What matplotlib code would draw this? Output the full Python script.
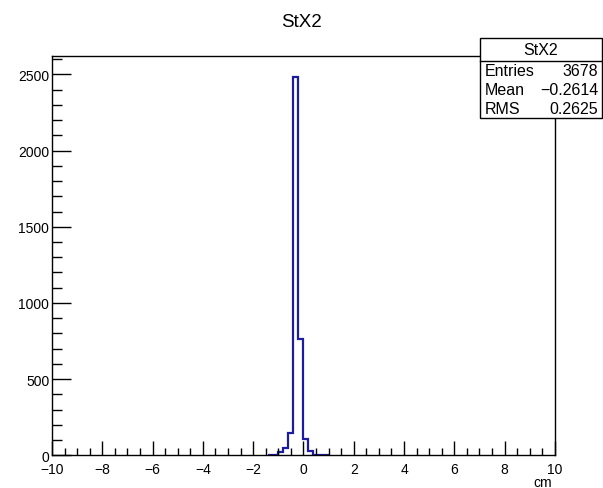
import matplotlib
matplotlib.use("Agg")
import matplotlib.pyplot as plt
from matplotlib.ticker import MultipleLocator
import numpy as np

plt.rcParams['font.family'] = ['Liberation Sans', 'DejaVu Sans']

# histogram data (bins of 0.2 cm, only the non-empty region)
bin_edges = [-1.4, -1.2, -1.0, -0.8, -0.6, -0.4, -0.2, 0.0, 0.2, 0.4, 0.6, 0.8, 1.0]
counts = [3, 4, 20, 48, 148, 2485, 762, 105, 28, 5, 4, 3]

stat_names = ["Entries", "Mean", "RMS"]
stat_values = ["3678", "\u22120.2614", "0.2625"]

fig = plt.figure(figsize=(6.03, 4.89), dpi=100)
ax = fig.add_axes([0.0862, 0.0665, 0.834, 0.817])

ax.stairs(counts, bin_edges, color='#1c1ca0', linewidth=1.6, baseline=None)

ax.set_xlim(-10, 10)
ax.set_ylim(0, 2620)
ax.xaxis.set_major_locator(MultipleLocator(2))
ax.xaxis.set_minor_locator(MultipleLocator(0.5))
ax.yaxis.set_major_locator(MultipleLocator(500))
ax.yaxis.set_minor_locator(MultipleLocator(100))
ax.tick_params(which='both', direction='in', top=False, right=False,
               labelsize=10, width=1, pad=2)
ax.tick_params(axis='x', which='major', length=10, pad=5)
ax.tick_params(axis='x', which='minor', length=5)
ax.tick_params(axis='y', which='major', length=14)
ax.tick_params(axis='y', which='minor', length=7)
for lbl in ax.get_yticklabels():
    lbl.set_verticalalignment('center_baseline')
for s in ax.spines.values():
    s.set_linewidth(1)

# x axis title, ROOT style at the right end
fig.text(543 / 603, 1 - 483 / 489, "cm", ha='center', va='center', fontsize=10)

fig.text(0.5, 0.955, "StX2", ha='center', va='center', fontsize=13.5)

# stats box
bx0, bx1 = 480 / 603, 602 / 603
by1, by0 = 1 - 39 / 489, 1 - 119 / 489
hy = 1 - 62 / 489
fig.patches.append(plt.Rectangle((bx0, by0), bx1 - bx0, by1 - by0,
                                 transform=fig.transFigure, fill=True,
                                 facecolor='white', edgecolor='black', lw=1))
fig.add_artist(plt.Line2D([bx0, bx1], [hy, hy], transform=fig.transFigure,
                          color='black', lw=1))
fig.text((bx0 + bx1) / 2, (by1 + hy) / 2, "StX2", ha='center', va='center', fontsize=11.5)
row_h = (hy - by0) / 3
for i, (n, v) in enumerate(zip(stat_names, stat_values)):
    yy = hy - row_h * (i + 0.5)
    fig.text(bx0 + 0.008, yy, n, ha='left', va='center', fontsize=11.5)
    fig.text(bx1 - 0.006, yy, v, ha='right', va='center', fontsize=11.5)

fig.savefig("out.png", dpi=100)
